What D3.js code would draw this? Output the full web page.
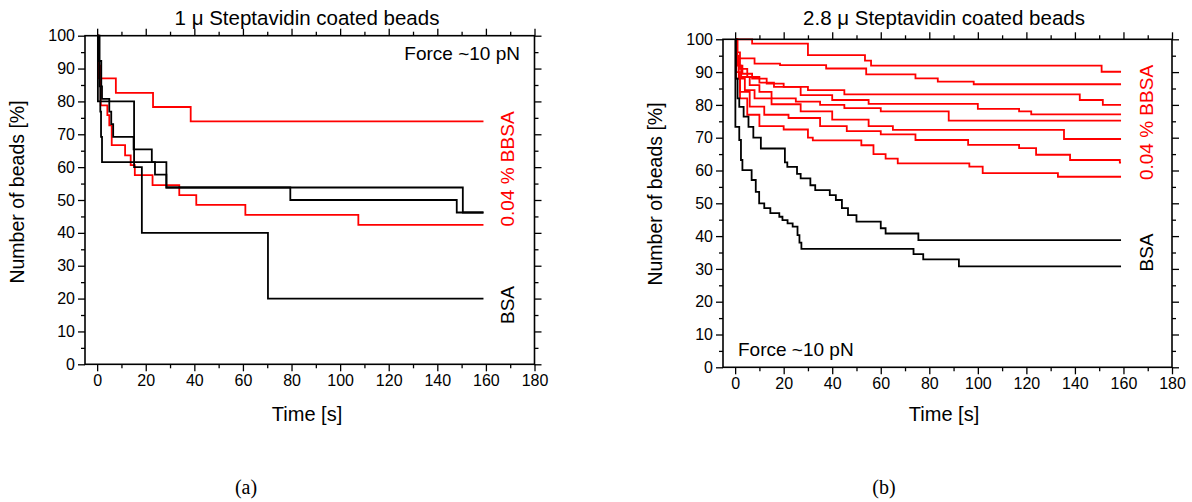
<!DOCTYPE html>
<html>
<head>
<meta charset="utf-8">
<script src="https://cdn.jsdelivr.net/npm/d3@7"></script>
<style>
  body { margin: 0; background: #fff; }
  svg { display: block; font-family: "Liberation Sans", Arial, sans-serif; }
</style>
</head>
<body>
<div id="chart"></div>
<script>
// time values (s) and remaining beads (%) at each step
const END_TIME = 159;

// panel (a) : 1 micron beads
const aRed = [
  [[0, 100], [0.5, 87], [7.7, 82.6], [23, 78.3], [38.5, 73.9]],
  [[0, 100], [0.5, 90.9], [1.5, 78.8], [4.2, 75.8], [5, 72.7], [6, 66.7], [11.5, 63.6], [13.8, 60.6],
   [15.5, 57.6], [22.8, 54.5], [33.8, 51.5], [40.8, 48.5], [61, 45.5], [107.5, 42.4]]
];
const aBlack = [
  [[0, 100], [0.3, 80], [15.2, 60], [18.4, 40], [70.3, 20]],
  [[0, 100], [0.6, 92.3], [1, 84.6], [1.3, 76.9], [1.6, 69.2], [2, 61.5], [28.5, 53.8], [150.5, 46.2]],
  [[0, 100], [1, 92.3], [1.7, 84.6], [2, 80.8], [5, 76.9], [5.8, 73.1], [6.6, 69.2], [15, 65.4],
   [22.5, 61.5], [23.8, 57.7], [28.5, 53.8], [79.5, 50], [148, 46.2]]
];

// panel (b) : 2.8 micron beads
const bRed = [
  [[0, 100], [7, 98.7], [30, 95.2], [53.5, 93.5], [56, 92], [151, 90.1]],
  [[0, 100], [1, 96], [2, 94.2], [8, 92.6], [18.5, 92.1], [37.5, 91.1], [54, 89.3], [74.3, 88.1],
   [83.5, 87.1], [98.3, 86.3]],
  [[0, 100], [0.7, 95], [1.5, 92], [3, 89.5], [7, 88], [13, 86.5], [20, 85.5], [30, 84.5], [45, 83.2],
   [142, 81.5], [151.5, 80]],
  [[0, 100], [0.5, 94], [2, 91], [5, 88.5], [10, 86.8], [16, 85.5], [27, 83], [40, 81.5], [55, 80.3],
   [100, 78.8], [117, 78], [122, 77.1]],
  [[0, 100], [0.8, 92], [2.5, 88.5], [6, 86], [10, 84], [15, 82], [25, 81], [35, 80], [45, 79], [60, 78],
   [88, 75.2]],
  [[0, 100], [0.5, 93], [1.5, 88], [4, 84.5], [8, 82], [15, 80.2], [27, 78], [40, 75.5], [55, 73.5],
   [65, 72.4], [135.5, 69.6]],
  [[0, 100], [0.5, 90], [2, 84], [6, 79.5], [12, 77], [22, 76], [35, 73.5], [46, 72], [60, 71], [74.3, 69.3],
   [96, 67.8], [117, 66.8], [124, 64.8], [138, 63.2], [158.5, 62.4]],
  [[0, 100], [0.3, 88], [2, 82], [5, 77], [10, 73.5], [20, 72.5], [30, 70], [32, 69.2], [52, 67.7],
   [57, 65], [62, 63.6], [67, 62.2], [96.5, 61.2], [102, 59.2], [133, 58.1]]
];
const bBlack = [
  [[0, 100], [0.3, 88], [1, 82], [1.7, 79.4], [3.5, 76.4], [5.5, 73.3], [7.5, 70], [10.6, 66.7],
   [20.5, 62.5], [21.5, 61.1], [25.5, 59], [27, 57.6], [31, 55.5], [33, 54], [39, 52.5], [41.5, 51],
   [44, 48.5], [46.5, 46.4], [50, 44.4], [60, 42.4], [62, 40.8], [75.5, 38.8]],
  [[0, 100], [0.1, 73.3], [1.7, 69.3], [2.4, 63.2], [3, 60.1], [6.8, 57.1], [8.5, 53.5], [9.9, 50],
   [12, 48.5], [14.5, 47], [18.2, 45.9], [19.5, 44.9], [21.6, 43.9], [23.7, 42.9], [25.7, 40.3],
   [26.5, 38], [27.3, 36.1], [73.5, 34.5], [77.5, 32.9], [92.2, 30.8]]
];

const xMajor = [0, 20, 40, 60, 80, 100, 120, 140, 160, 180];
const xMinor = [10, 30, 50, 70, 90, 110, 130, 150, 170];
const yMajor = [0, 10, 20, 30, 40, 50, 60, 70, 80, 90, 100];
const yMinor = [5, 15, 25, 35, 45, 55, 65, 75, 85, 95];

const titles = ["1 \u03bc Steptavidin coated beads", "2.8 \u03bc Steptavidin coated beads"];
const captions = ["(a)", "(b)"];

const svg = d3.select("#chart").append("svg")
  .attr("width", 1192)
  .attr("height", 502);

function drawPanel(p) {
  const x = d3.scaleLinear().domain([-5, 180]).range([p.left, p.right]);
  const y = d3.scaleLinear().domain([0, 100]).range([p.bottom, p.top]);
  const g = svg.append("g");

  const line = d3.line()
    .x(d => x(d[0]))
    .y(d => y(d[1]))
    .curve(d3.curveStepAfter);

  function series(list, color) {
    list.forEach(s => {
      const pts = s.concat([[END_TIME, s[s.length - 1][1]]]);
      g.append("path")
        .datum(pts)
        .attr("fill", "none")
        .attr("stroke", color)
        .attr("stroke-width", 1.8)
        .attr("d", line);
    });
  }
  series(p.red, "#ff0000");
  series(p.black, "#000");

  // axes, ticks outside on all four sides
  const axes = [
    [d3.axisBottom(x), `translate(0,${p.bottom})`, true],
    [d3.axisTop(x), `translate(0,${p.top})`, false]
  ];
  axes.forEach(([ax, tr, lab]) => {
    g.append("g").attr("transform", tr)
      .call(ax.tickValues(xMajor).tickSize(7).tickSizeOuter(0).tickFormat(lab ? d3.format("d") : ""))
      .call(s => s.select(".domain").remove());
    g.append("g").attr("transform", tr)
      .call(ax.tickValues(xMinor).tickSize(4).tickFormat(""))
      .call(s => s.select(".domain").remove());
  });
  const yaxes = [
    [d3.axisLeft(y), `translate(${p.left},0)`, true],
    [d3.axisRight(y), `translate(${p.right},0)`, false]
  ];
  yaxes.forEach(([ax, tr, lab]) => {
    g.append("g").attr("transform", tr)
      .call(ax.tickValues(yMajor).tickSize(7).tickSizeOuter(0).tickFormat(lab ? d3.format("d") : ""))
      .call(s => s.select(".domain").remove());
    g.append("g").attr("transform", tr)
      .call(ax.tickValues(yMinor).tickSize(4).tickFormat(""))
      .call(s => s.select(".domain").remove());
  });
  g.selectAll(".tick line").attr("stroke", "#000").attr("stroke-width", 1.3);
  g.selectAll(".tick text").attr("font-size", 16).attr("fill", "#000")
    .attr("font-family", "'Liberation Sans', Arial, sans-serif");

  g.append("rect")
    .attr("x", p.left).attr("y", p.top)
    .attr("width", p.right - p.left).attr("height", p.bottom - p.top)
    .attr("fill", "none").attr("stroke", "#000").attr("stroke-width", 1.6);

  // titles
  g.append("text").attr("x", p.titleX).attr("y", 25)
    .attr("text-anchor", "middle").attr("font-size", 20.5).text(p.title);
  g.append("text").attr("x", p.titleX).attr("y", 421)
    .attr("text-anchor", "middle").attr("font-size", 20).text("Time [s]");
  g.append("text")
    .attr("transform", `translate(${p.left - 61},${p.ylabY}) rotate(-90)`)
    .attr("text-anchor", "middle").attr("font-size", 19.5).text("Number of beads [%]");

  // annotations
  g.append("text").attr("x", p.forceX).attr("y", p.forceY)
    .attr("text-anchor", p.forceAnchor).attr("font-size", 19).text("Force ~10 pN");
  g.append("text")
    .attr("transform", `translate(${p.labX},${p.bbsaY}) rotate(-90)`)
    .attr("text-anchor", "middle").attr("font-size", 19).attr("fill", "#ff0000").text("0.04 % BBSA");
  g.append("text")
    .attr("transform", `translate(${p.labX},${p.bsaY}) rotate(-90)`)
    .attr("text-anchor", "middle").attr("font-size", 19).text("BSA");

  g.append("text").attr("x", p.capX).attr("y", 494)
    .attr("text-anchor", "middle").attr("font-size", 20)
    .attr("font-family", "'Liberation Serif', 'DejaVu Serif', serif").text(p.caption);
}

drawPanel({
  left: 85, right: 534.5, top: 35.7, bottom: 364.3,
  red: aRed, black: aBlack, title: titles[0], caption: captions[0],
  titleX: 307, ylabY: 192, capX: 246,
  forceX: 520, forceY: 59.5, forceAnchor: "end",
  labX: 514, bbsaY: 169, bsaY: 305
});
drawPanel({
  left: 723, right: 1172, top: 39.3, bottom: 367.3,
  red: bRed, black: bBlack, title: titles[1], caption: captions[1],
  titleX: 944, ylabY: 194, capX: 884,
  forceX: 738, forceY: 356, forceAnchor: "start",
  labX: 1153, bbsaY: 122.5, bsaY: 252.5
});
</script>
</body>
</html>
